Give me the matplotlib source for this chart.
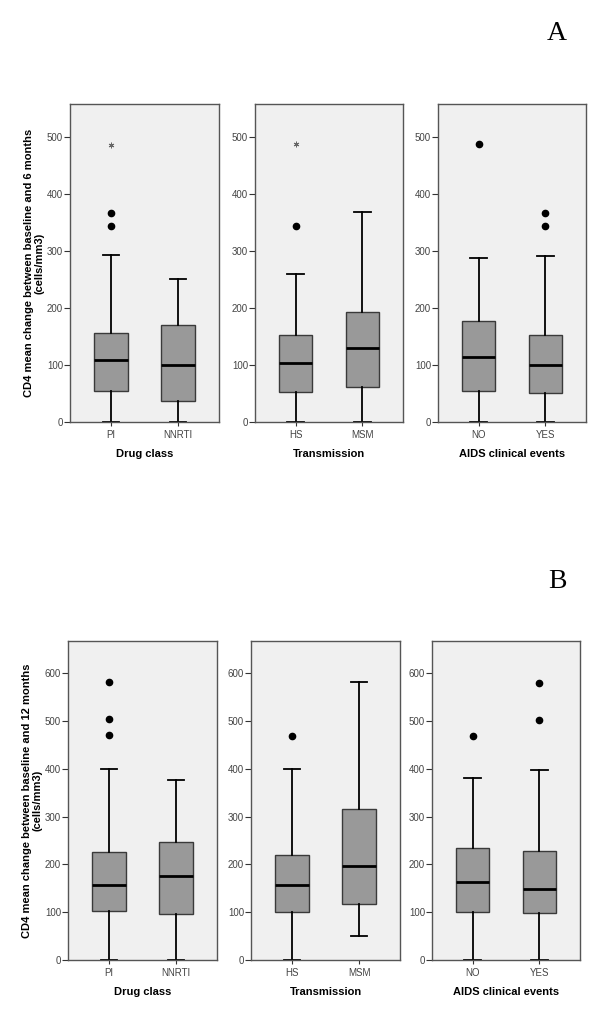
import matplotlib.pyplot as plt

plt.rcParams['font.family'] = ['Liberation Sans', 'DejaVu Sans']

# box stats per group: [whisker low, Q1, median, Q3, whisker high]
drug_labels = ['PI', 'NNRTI']
trans_labels = ['HS', 'MSM']
aids_labels = ['NO', 'YES']

# A: change between baseline and 6 months
a_drug_stats = [[0, 54, 109, 156, 292], [0, 36, 100, 170, 251]]
a_drug_out = [[344, 366], []]
a_drug_ext = [[486], []]

a_trans_stats = [[0, 53, 104, 152, 259], [0, 61, 129, 192, 367]]
a_trans_out = [[344], []]
a_trans_ext = [[487], []]

a_aids_stats = [[0, 55, 113, 177, 287], [0, 51, 99, 152, 291]]
a_aids_out = [[487], [343, 366]]
a_aids_ext = [[], []]

# B: change between baseline and 12 months
b_drug_stats = [[0, 102, 158, 227, 399], [0, 97, 175, 248, 376]]
b_drug_out = [[471, 505, 583], []]
b_drug_ext = [[], []]

b_trans_stats = [[0, 100, 157, 220, 399], [50, 117, 197, 316, 582]]
b_trans_out = [[470], []]
b_trans_ext = [[], []]

b_aids_stats = [[0, 101, 164, 235, 381], [0, 99, 149, 228, 397]]
b_aids_out = [[469], [502, 581]]
b_aids_ext = [[], []]

W, H = 600, 1025


def px_rect(left, top, right, bottom):
    return [left / W, 1 - bottom / H, (right - left) / W, (bottom - top) / H]


def draw_panel(fig, rect, labels, stats, outliers, extremes, ymax, yticks, xlabel, ylabel=None):
    ax = fig.add_axes(rect)
    ax.set_facecolor('#f0f0f0')
    bxp_stats = []
    for lab, s, out in zip(labels, stats, outliers):
        bxp_stats.append(dict(label=lab, whislo=s[0], q1=s[1], med=s[2],
                              q3=s[3], whishi=s[4], fliers=out))
    ax.bxp(bxp_stats, positions=[1, 2], widths=0.5, capwidths=0.25,
           patch_artist=True,
           boxprops=dict(facecolor='#999999', edgecolor='#3a3a3a', linewidth=1),
           medianprops=dict(color='black', linewidth=2),
           whiskerprops=dict(color='black', linewidth=1.3),
           capprops=dict(color='black', linewidth=1.3),
           flierprops=dict(marker='o', markerfacecolor='black',
                           markeredgecolor='black', markersize=4.5,
                           linestyle='none'))
    for i, ext in enumerate(extremes):
        if ext:
            ax.plot([i + 1] * len(ext), ext, linestyle='none', marker=(6, 2, 0),
                    markersize=4, color='#666666', markeredgewidth=0.7)
    ax.set_xlim(0.39, 2.61)
    ax.set_ylim(0, ymax)
    ax.set_yticks(yticks)
    for sp in ax.spines.values():
        sp.set_color('#555555')
        sp.set_linewidth(1)
    ax.tick_params(axis='y', length=4, color='#333333', labelcolor='#444444',
                   labelsize=7, pad=1)
    ax.tick_params(axis='x', length=3, color='#333333', labelcolor='#444444',
                   labelsize=7, pad=3)
    ax.set_xlabel(xlabel, fontsize=8, fontweight='bold', labelpad=6)
    if ylabel:
        ax.set_ylabel(ylabel, fontsize=8, fontweight='bold', linespacing=1.0,
                      labelpad=2)
    return ax


fig = plt.figure(figsize=(6, 10.25), dpi=100)

ylab_a = 'CD4 mean change between baseline and 6 months\n(cells/mm3)'
ylab_b = 'CD4 mean change between baseline and 12 months\n(cells/mm3)'
ticks_a = [0, 100, 200, 300, 400, 500]
ticks_b = [0, 100, 200, 300, 400, 500, 600]

draw_panel(fig, px_rect(70, 104, 219, 422), drug_labels, a_drug_stats, a_drug_out,
           a_drug_ext, 557, ticks_a, 'Drug class', ylab_a)
draw_panel(fig, px_rect(255, 104, 403, 422), trans_labels, a_trans_stats, a_trans_out,
           a_trans_ext, 557, ticks_a, 'Transmission')
draw_panel(fig, px_rect(438, 104, 586, 422), aids_labels, a_aids_stats, a_aids_out,
           a_aids_ext, 557, ticks_a, 'AIDS clinical events')

draw_panel(fig, px_rect(68, 641, 217, 960), drug_labels, b_drug_stats, b_drug_out,
           b_drug_ext, 668, ticks_b, 'Drug class', ylab_b)
draw_panel(fig, px_rect(251, 641, 400, 960), trans_labels, b_trans_stats, b_trans_out,
           b_trans_ext, 668, ticks_b, 'Transmission')
draw_panel(fig, px_rect(432, 641, 580, 960), aids_labels, b_aids_stats, b_aids_out,
           b_aids_ext, 668, ticks_b, 'AIDS clinical events')

fig.text(557 / W, 1 - 33 / H, 'A', family='Liberation Serif', fontsize=20,
         ha='center', va='center')
fig.text(557 / W, 1 - 581 / H, 'B', family='Liberation Serif', fontsize=20,
         ha='center', va='center')

fig.savefig('out.png', dpi=100)
